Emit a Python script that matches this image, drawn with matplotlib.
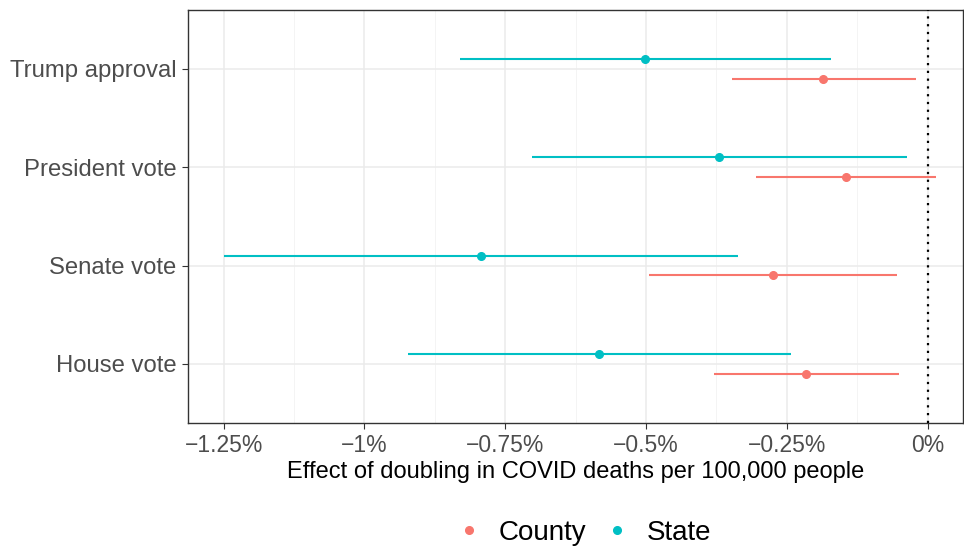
import matplotlib.pyplot as plt
import numpy as np
from matplotlib.lines import Line2D
from matplotlib.ticker import MultipleLocator, FuncFormatter

plt.rcParams['font.family'] = ['Liberation Sans', 'DejaVu Sans']

# outcomes, bottom to top
outcomes = ['House vote', 'Senate vote', 'President vote', 'Trump approval']

# estimates in percent
state_est = [-0.583, -0.793, -0.370, -0.501]
state_lo = [-0.923, -1.249, -0.703, -0.831]
state_hi = [-0.243, -0.337, -0.037, -0.171]

county_est = [-0.216, -0.275, -0.144, -0.186]
county_lo = [-0.379, -0.495, -0.304, -0.348]
county_hi = [-0.051, -0.055, 0.015, -0.021]

col_county = '#F8766D'
col_state = '#00BFC4'

fig = plt.figure(figsize=(9.64, 5.49), dpi=100)
ax = fig.add_axes([0.1946, 0.2295, 0.8044, 0.7525])

y = np.arange(1, len(outcomes) + 1)

ax.hlines(y + 0.1, state_lo, state_hi, color=col_state, lw=1.5, zorder=3)
ax.plot(state_est, y + 0.1, 'o', color=col_state, ms=5.5, zorder=4)
ax.hlines(y - 0.1, county_lo, county_hi, color=col_county, lw=1.5, zorder=3)
ax.plot(county_est, y - 0.1, 'o', color=col_county, ms=5.5, zorder=4)

ax.axvline(0, color='black', ls=(0, (1, 2.5)), lw=1.6, zorder=5)

ax.set_xlim(-1.314, 0.063)
ax.set_ylim(0.4, 4.6)
ax.set_yticks(y)
ax.set_yticklabels(outcomes)
ax.xaxis.set_major_locator(MultipleLocator(0.25))
ax.xaxis.set_minor_locator(MultipleLocator(0.125))


def pct(v, pos):
    s = ('%g' % round(v, 2)).replace('-', '\u2212')
    return s + '%'


ax.xaxis.set_major_formatter(FuncFormatter(pct))

ax.grid(which='major', color='#EBEBEB', lw=1.1, zorder=0)
ax.grid(which='minor', axis='x', color='#F2F2F2', lw=0.6, zorder=0)
ax.set_axisbelow(True)
ax.tick_params(which='minor', length=0)
ax.tick_params(which='major', length=4, color='#333333', labelcolor='#4D4D4D', pad=4)
ax.tick_params(axis='x', labelsize=16.5)
ax.tick_params(axis='y', labelsize=17.2)
for s in ax.spines.values():
    s.set_color('#333333')
    s.set_linewidth(1.0)

ax.set_xlabel('Effect of doubling in COVID deaths per 100,000 people', fontsize=17, labelpad=3)

handles = [Line2D([], [], marker='o', ls='none', color=col_county, ms=5.5),
           Line2D([], [], marker='o', ls='none', color=col_state, ms=5.5)]
fig.legend(handles, ['County', 'State'], loc='lower center', bbox_to_anchor=(0.605, -0.04),
           ncol=2, frameon=False, fontsize=20, handlelength=1.0, handletextpad=0.58,
           columnspacing=0.58)

fig.savefig('out.png', dpi=100)
